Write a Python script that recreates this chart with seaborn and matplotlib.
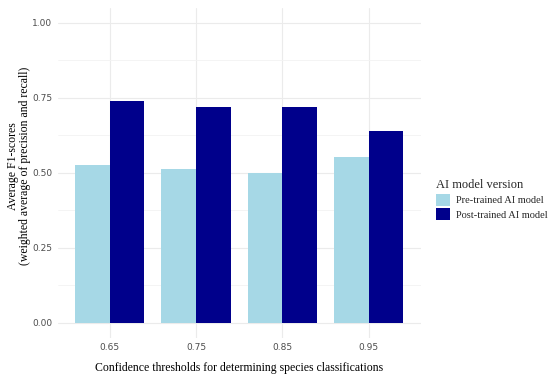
import numpy as np
import pandas as pd
import matplotlib.pyplot as plt
import seaborn as sns

# values
thresholds = ["0.65", "0.75", "0.85", "0.95"]
pre_trained = [0.525, 0.511, 0.499, 0.553]
post_trained = [0.740, 0.718, 0.718, 0.639]
versions = ["Pre-trained AI model", "Post-trained AI model"]
colors = ["#a6d8e6", "#00008b"]

df = pd.DataFrame({
    "threshold": thresholds * 2,
    "f1": pre_trained + post_trained,
    "version": [versions[0]] * 4 + [versions[1]] * 4,
})

sns.set_theme(style="whitegrid")
plt.rcParams['font.family'] = ['Liberation Serif', 'DejaVu Serif']

fig = plt.figure(figsize=(5.5, 3.77), dpi=100)
ax = fig.add_axes([0.105, 0.104, 0.66, 0.876])

sns.barplot(data=df, x="threshold", y="f1", hue="version", order=thresholds,
            hue_order=versions, palette=colors, width=0.8, gap=0,
            saturation=1, linewidth=0, ax=ax)

ax.set_xlim(-0.6, 3.6)
ax.set_ylim(-0.05, 1.05)
ax.set_yticks([0, 0.25, 0.5, 0.75, 1.0])
ax.set_yticklabels(["0.00", "0.25", "0.50", "0.75", "1.00"])
ax.set_yticks([0.125, 0.375, 0.625, 0.875], minor=True)
ax.grid(True, which="major", color="#ebebeb", linewidth=0.8)
ax.grid(True, which="minor", axis="y", color="#f3f3f3", linewidth=0.6)
ax.set_axisbelow(True)
for s in ax.spines.values():
    s.set_visible(False)
ax.tick_params(axis="both", which="both", length=0, labelsize=6.5,
               labelcolor="#4d4d4d", pad=4)
for lab in ax.get_xticklabels() + ax.get_yticklabels():
    lab.set_family(["DejaVu Sans"])

ax.set_xlabel("Confidence thresholds for determining species classifications",
              fontsize=8.5, color="black", labelpad=7)
ax.set_ylabel("")
fig.text(19 / 550, 1 - 166 / 377,
         "Average F1-scores\n(weighted average of precision and recall)",
         rotation=90, ha="center", va="center", multialignment="center",
         fontsize=8.5, color="black", linespacing=1.0)

handles, labels = ax.get_legend_handles_labels()
ax.get_legend().remove()
leg = fig.legend(handles, labels, title="AI model version", loc="center left",
                 bbox_to_anchor=(0.775, 0.47), frameon=False, fontsize=7.5,
                 title_fontsize=9, handlelength=1.4, handleheight=1.4,
                 handletextpad=0.6, labelspacing=0.25)
leg._legend_box.align = "left"

fig.savefig("out.png", dpi=100)
